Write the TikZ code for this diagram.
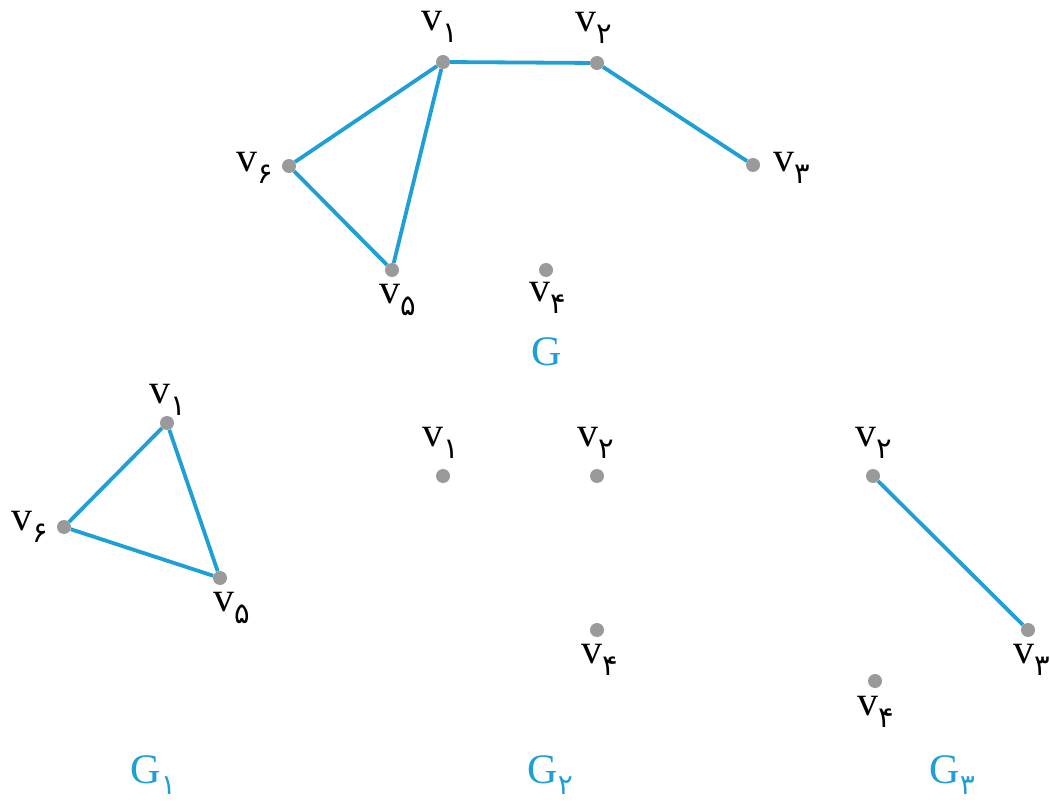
\documentclass[tikz,border=0pt]{standalone}
\usepackage{fontspec}
\setmainfont{Liberation Serif}
\newfontfamily\pfont[Script=Arabic]{DejaVu Sans}
\definecolor{edgeblue}{HTML}{1E9FD6}
\definecolor{dotgray}{HTML}{9A9A9A}
\newcommand\vl[1]{v\kern0.5pt\raisebox{-0.28em}{\pfont\fontsize{29}{30}\selectfont #1}}
\newcommand\gl[1]{G\kern0.5pt\raisebox{-0.25em}{\pfont\fontsize{28}{30}\selectfont #1}}
\tikzset{
  vdot/.style={circle,fill=dotgray,inner sep=0pt,minimum size=14pt},
  edge/.style={draw=edgeblue,line width=3.8pt},
  vtext/.style={font=\fontsize{42}{46}\selectfont,inner sep=0pt},
  gtext/.style={font=\fontsize{42}{46}\selectfont,text=edgeblue,inner sep=0pt}
}
\begin{document}
\begin{tikzpicture}[x=1pt,y=-1pt]
\useasboundingbox (0,0) rectangle (1050,810);
% ---- G ----
\node[vdot] (a1) at (443,62) {};
\node[vdot] (a2) at (597,63) {};
\node[vdot] (a3) at (753,165) {};
\node[vdot] (a6) at (289,166) {};
\node[vdot] (a5) at (392,270) {};
\node[vdot] (a4) at (546,270) {};
\draw[edge] (a6) -- (a1) -- (a5) -- (a6);
\draw[edge] (a1) -- (a2) -- (a3);
\node[vtext] (la1) at (440,27) {\vl{۱}};
\node[vtext] (la2) at (594,28) {\vl{۲}};
\node[vtext] (la3) at (792,168) {\vl{۳}};
\node[vtext] (la6) at (255,168) {\vl{۶}};
\node[vtext] (la5) at (398,300) {\vl{۵}};
\node[vtext] (la4) at (548,298) {\vl{۴}};
\node[gtext] (lG) at (547,352) {G};
% ---- G1 ----
\node[vdot] (b1) at (167,423) {};
\node[vdot] (b6) at (64,527) {};
\node[vdot] (b5) at (220,578) {};
\draw[edge] (b1) -- (b5) -- (b6) -- (b1);
\node[vtext] (lb1) at (168,400) {\vl{۱}};
\node[vtext] (lb6) at (30,527) {\vl{۶}};
\node[vtext] (lb5) at (232,608) {\vl{۵}};
\node[gtext] (lG1) at (153,775) {\gl{۱}};
% ---- G2 ----
\node[vdot] (c1) at (443,476) {};
\node[vdot] (c2) at (597,476) {};
\node[vdot] (c4) at (597,630) {};
\node[vtext] (lc1) at (441,443) {\vl{۱}};
\node[vtext] (lc2) at (596,443) {\vl{۲}};
\node[vtext] (lc4) at (600,660) {\vl{۴}};
\node[gtext] (lG2) at (550,775) {\gl{۲}};
% ---- G3 ----
\node[vdot] (d2) at (873,476) {};
\node[vdot] (d3) at (1028,630) {};
\node[vdot] (d4) at (875,681) {};
\draw[edge] (d2) -- (d3);
\node[vtext] (ld2) at (874,443) {\vl{۲}};
\node[vtext] (ld3) at (1032,660) {\vl{۳}};
\node[vtext] (ld4) at (876,712) {\vl{۴}};
\node[gtext] (lG3) at (952,775) {\gl{۳}};
\end{tikzpicture}
\end{document}
